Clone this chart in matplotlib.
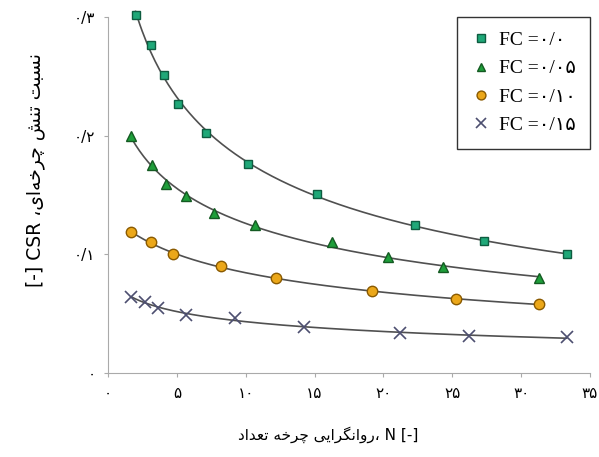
import numpy as np
import matplotlib
matplotlib.use('Agg')
from matplotlib import pyplot as plt

# data
n_fc00 = [2.0, 3.1, 4.1, 5.1, 7.1, 10.2, 15.2, 22.3, 27.3, 33.3]
csr_fc00 = [0.302, 0.276, 0.251, 0.227, 0.202, 0.176, 0.151, 0.125, 0.111, 0.100]
n_fc05 = [1.7, 3.2, 4.2, 5.7, 7.7, 10.7, 16.3, 20.3, 24.3, 31.3]
csr_fc05 = [0.200, 0.175, 0.159, 0.149, 0.135, 0.125, 0.110, 0.098, 0.089, 0.080]
n_fc10 = [1.7, 3.1, 4.7, 8.2, 12.2, 19.2, 25.3, 31.3]
csr_fc10 = [0.119, 0.110, 0.100, 0.090, 0.080, 0.069, 0.062, 0.058]
n_fc15 = [1.7, 2.7, 3.6, 5.7, 9.2, 14.2, 21.2, 26.2, 33.3]
csr_fc15 = [0.064, 0.060, 0.055, 0.049, 0.046, 0.039, 0.034, 0.031, 0.030]

legend_labels = ['FC =۰/۰', 'FC =۰/۰۵', 'FC =۰/۱۰', 'FC =۰/۱۵']
x_ticks = [0, 5, 10, 15, 20, 25, 30, 35]
y_ticks = [0, 0.1, 0.2, 0.3]

# --- minimal persian shaping (matplotlib has no text shaping) ---
FORMS = {  # isolated, final, initial, medial
    'ا': ('\uFE8D', '\uFE8E'), 'ب': ('\uFE8F', '\uFE90', '\uFE91', '\uFE92'),
    'ت': ('\uFE95', '\uFE96', '\uFE97', '\uFE98'), 'خ': ('\uFEA5', '\uFEA6', '\uFEA7', '\uFEA8'),
    'د': ('\uFEA9', '\uFEAA'), 'ر': ('\uFEAD', '\uFEAE'),
    'س': ('\uFEB1', '\uFEB2', '\uFEB3', '\uFEB4'), 'ش': ('\uFEB5', '\uFEB6', '\uFEB7', '\uFEB8'),
    'ع': ('\uFEC9', '\uFECA', '\uFECB', '\uFECC'), 'ن': ('\uFEE5', '\uFEE6', '\uFEE7', '\uFEE8'),
    'ه': ('\uFEE9', '\uFEEA', '\uFEEB', '\uFEEC'), 'و': ('\uFEED', '\uFEEE'),
    'ی': ('\uFBFC', '\uFBFD', '\uFBFE', '\uFBFF'), 'چ': ('\uFB7A', '\uFB7B', '\uFB7C', '\uFB7D'),
    'گ': ('\uFB92', '\uFB93', '\uFB94', '\uFB95'),
}


def shape(text):
    out = []
    for i, ch in enumerate(text):
        if ch not in FORMS:
            if ch != '\u200c':
                out.append(ch)
            continue
        prev = text[i - 1] if i > 0 else ''
        nxt = text[i + 1] if i + 1 < len(text) else ''
        join_prev = prev in FORMS and len(FORMS[prev]) == 4
        join_next = len(FORMS[ch]) == 4 and nxt in FORMS
        f = FORMS[ch]
        if join_prev and join_next:
            out.append(f[3])
        elif join_prev:
            out.append(f[1])
        elif join_next:
            out.append(f[2])
        else:
            out.append(f[0])
    return ''.join(out)[::-1]


def fa_num(v):
    s = ('%g' % v).replace('.', '/')
    return s.translate(str.maketrans('0123456789', '۰۱۲۳۴۵۶۷۸۹'))


ylabel = '[-] CSR ' + shape('نسبت تنش چرخه\u200cای،')
xlabel = ' '.join(shape(w) for w in ['تعداد', 'چرخه', 'روانگرایی']) + '، N [-]'

plt.rcParams['font.family'] = ['DejaVu Sans']

fig = plt.figure(figsize=(5.99, 4.57), dpi=100)
ax = fig.add_axes([0.1803, 0.1838, 0.8047, 0.779])

series = [
    (n_fc00, csr_fc00, dict(marker='s', ms=6, mfc='#1fa878', mec='#0e5c40', ls='none')),
    (n_fc05, csr_fc05, dict(marker='^', ms=7, mfc='#1e9e3a', mec='#145a22', ls='none')),
    (n_fc10, csr_fc10, dict(marker='o', ms=7.5, mfc='#eba719', mec='#8a5a00', ls='none')),
    (n_fc15, csr_fc15, dict(marker='x', ms=8, mew=1.2, color='#4d4f70', ls='none')),
]

handles = []
for (xs, ys, style), lab in zip(series, legend_labels):
    xs = np.array(xs)
    ys = np.array(ys)
    # smooth trend through the points (quadratic in log-log space)
    c = np.polyfit(np.log(xs), np.log(ys), 2)
    xf = np.linspace(xs.min(), xs.max(), 200)
    ax.plot(xf, np.exp(np.polyval(c, np.log(xf))), color='#505050', lw=1.2, zorder=2,
            clip_on=False)
    h, = ax.plot(xs, ys, zorder=3, label=lab, clip_on=False, **style)
    handles.append(h)

ax.set_xlim(0, 35)
ax.set_ylim(0, 0.3)
ax.set_xticks(x_ticks)
ax.set_xticklabels([fa_num(t) for t in x_ticks], fontsize=11)
ax.set_yticks(y_ticks)
ax.set_yticklabels([fa_num(t) for t in y_ticks], fontsize=11)
ax.tick_params(length=3, color='#aaaaaa', pad=6)
for s in ['top', 'right']:
    ax.spines[s].set_visible(False)
for s in ['left', 'bottom']:
    ax.spines[s].set_color('#aaaaaa')

ax.set_xlabel(xlabel, fontsize=11)
ax.xaxis.set_label_coords(0.456, -0.15)
ax.set_ylabel(ylabel, fontsize=13.5)
ax.yaxis.set_label_coords(-0.13, 0.57)

leg = ax.legend(handles=handles, loc='upper right',
                bbox_to_anchor=(0.985, 0.963), bbox_transform=fig.transFigure,
                prop={'family': ['Liberation Serif', 'DejaVu Sans'], 'size': 14},
                frameon=True, fancybox=False, edgecolor='black', handletextpad=0.4,
                handlelength=1.0, labelspacing=0.55, borderpad=0.75, borderaxespad=0,
                markerscale=0.85)
leg.get_frame().set_linewidth(1.0)

fig.savefig('out.png', dpi=100)
